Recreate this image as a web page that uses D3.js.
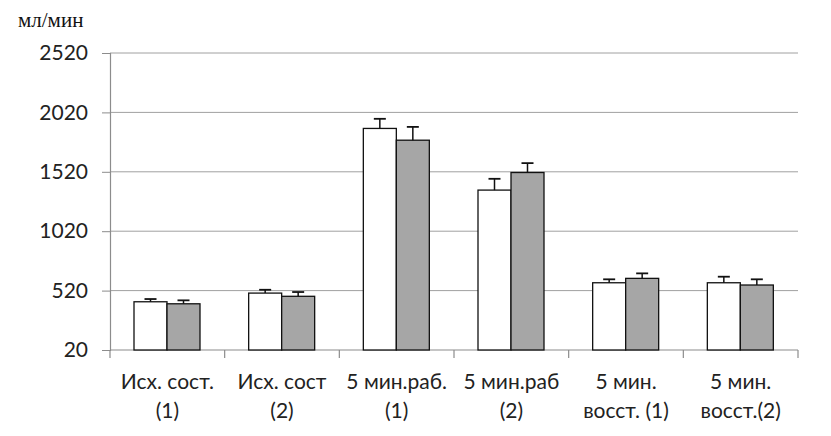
<!DOCTYPE html>
<html><head><meta charset="utf-8">
<script src="https://cdn.jsdelivr.net/npm/d3@7"></script>
<style>body{margin:0;background:#fff}svg{display:block}</style>
</head><body>
<svg id="c" width="831" height="436"></svg>
<script>
const categories = [["Исх. сост.","(1)"],["Исх. сост","(2)"],["5 мин.раб.","(1)"],["5 мин.раб","(2)"],["5 мин.","восст. (1)"],["5 мин.","восст.(2)"]];
const series1 = [426, 499, 1885, 1366, 586, 586];
const series2 = [409, 472, 1786, 1514, 623, 567];
const err1 = [23, 28, 81, 95, 29, 51];
const err2 = [29, 36, 112, 79, 42, 48];
const yTicks = [20, 520, 1020, 1520, 2020, 2520];
const yTitle = "мл/мин";

const svg = d3.select("#c");
const L = 110, R = 798, T = 53, B = 350;
const keys = categories.map((d,i)=>i);
const x0 = d3.scaleBand().domain(keys).range([L, R]).padding(0);
const x1 = d3.scaleBand().domain([0,1]).range([24, 90]).padding(0);
const y = d3.scaleLinear().domain([20, 2520]).range([B, T]);

// gridlines
svg.append("g").selectAll("line").data(yTicks.slice(1)).join("line")
  .attr("x1", L).attr("x2", R).attr("y1", d=>y(d)).attr("y2", d=>y(d))
  .attr("stroke", "#a0a0a0").attr("stroke-width", 1);

// y axis
const ya = svg.append("g").attr("transform", `translate(${L},0)`)
  .call(d3.axisLeft(y).tickValues(yTicks).tickSize(8).tickPadding(14).tickFormat(d3.format("d")));
ya.select(".domain").attr("stroke", "#8c8c8c").attr("stroke-width", 1.2);
ya.selectAll(".tick line").attr("stroke", "#8c8c8c");
ya.selectAll("text").attr("font-family", "Lato, sans-serif").attr("font-size", 21).attr("fill", "#222");

// x axis
const xa = svg.append("g").attr("transform", `translate(0,${B})`);
xa.append("line").attr("x1", L).attr("x2", R).attr("y1", 0).attr("y2", 0).attr("stroke", "#8c8c8c").attr("stroke-width", 1.2);
const bounds = keys.map(k=>x0(k)).concat([R]);
xa.selectAll("line.t").data(bounds).join("line").attr("class","t")
  .attr("x1", d=>d).attr("x2", d=>d).attr("y1", 0).attr("y2", 8)
  .attr("stroke", "#8c8c8c").attr("stroke-width", 1.2);
const lab = xa.selectAll("text").data(categories).join("text")
  .attr("text-anchor", "middle")
  .attr("font-family", "Lato, sans-serif").attr("font-size", 21).attr("fill", "#222")
  .attr("transform", (d,i)=>`translate(${x0(i)+x0.bandwidth()/2},0)`);
lab.selectAll("tspan").data(d=>d).join("tspan")
  .attr("x", 0).attr("y", (d,j)=>39 + j*29).text(d=>d);

// bars
const colors = ["#ffffff", "#a6a6a6"];
const groups = svg.append("g").selectAll("g").data(keys).join("g")
  .attr("transform", k=>`translate(${x0(k)},0)`);
const vals = k => [{s:0, v:series1[k], e:err1[k]}, {s:1, v:series2[k], e:err2[k]}];
groups.selectAll("rect").data(vals).join("rect")
  .attr("x", d=>x1(d.s)).attr("width", x1.bandwidth())
  .attr("y", d=>y(d.v)).attr("height", d=>B - y(d.v))
  .attr("fill", d=>colors[d.s]).attr("stroke", "#111").attr("stroke-width", 1.3);
// error bars
const eb = groups.selectAll("g.e").data(vals).join("g").attr("class","e");
eb.append("line")
  .attr("x1", d=>x1(d.s)+x1.bandwidth()/2).attr("x2", d=>x1(d.s)+x1.bandwidth()/2)
  .attr("y1", d=>y(d.v)).attr("y2", d=>y(d.v+d.e))
  .attr("stroke", "#111").attr("stroke-width", 1.5);
eb.append("line")
  .attr("x1", d=>x1(d.s)+x1.bandwidth()/2-6).attr("x2", d=>x1(d.s)+x1.bandwidth()/2+6)
  .attr("y1", d=>y(d.v+d.e)).attr("y2", d=>y(d.v+d.e))
  .attr("stroke", "#111").attr("stroke-width", 1.8);

// title
svg.append("text").attr("x", 18).attr("y", 27)
  .attr("font-family", "'Liberation Serif', 'Times New Roman', serif").attr("font-size", 21).attr("fill", "#111")
  .text(yTitle);
</script>
</body></html>
